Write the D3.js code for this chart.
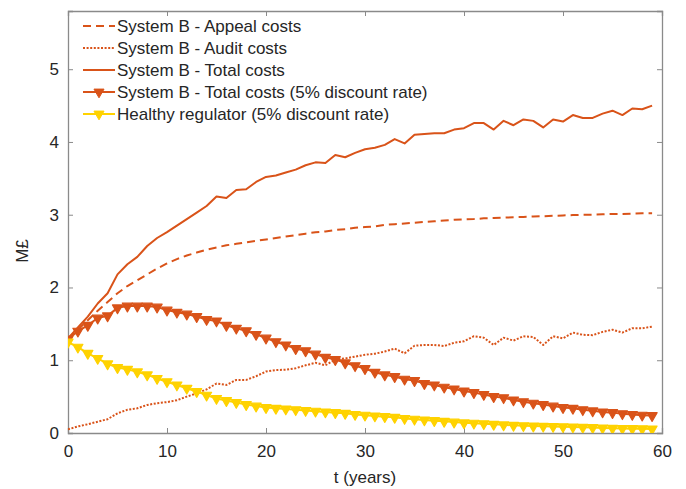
<!DOCTYPE html>
<html>
<head>
<meta charset="utf-8">
<script src="https://cdn.jsdelivr.net/npm/d3@7"></script>
<style>
  body { margin: 0; background: #fff; }
  text { font-family: "Liberation Sans", Arial, sans-serif; fill: #262626; }
</style>
</head>
<body>
<svg id="chart" width="686" height="489"></svg>
<script>
// years 0..59
var years = d3.range(0, 60);

var appealCosts = [1.3, 1.42, 1.55, 1.68, 1.8, 1.92, 2.02, 2.1, 2.18, 2.26,
  2.33, 2.39, 2.44, 2.48, 2.52, 2.55, 2.58, 2.6, 2.62, 2.64,
  2.66, 2.68, 2.7, 2.72, 2.74, 2.76, 2.77, 2.79, 2.8, 2.82,
  2.83, 2.84, 2.86, 2.87, 2.88, 2.89, 2.9, 2.91, 2.92, 2.93,
  2.935, 2.94, 2.95, 2.955, 2.96, 2.965, 2.97, 2.975, 2.98, 2.985,
  2.99, 2.995, 3.0, 3.0, 3.005, 3.01, 3.01, 3.015, 3.02, 3.02];

var auditCosts = [0.05, 0.09, 0.12, 0.155, 0.19, 0.27, 0.32, 0.34, 0.385, 0.41,
  0.425, 0.45, 0.5, 0.545, 0.6, 0.68, 0.66, 0.73, 0.73, 0.78,
  0.845, 0.865, 0.87, 0.89, 0.93, 0.965, 0.93, 1.01, 1.025, 1.05,
  1.075, 1.09, 1.12, 1.16, 1.095, 1.2, 1.21, 1.21, 1.195, 1.24,
  1.26, 1.33, 1.31, 1.21, 1.31, 1.27, 1.33, 1.32, 1.21, 1.33,
  1.3, 1.38, 1.35, 1.345, 1.39, 1.42, 1.38, 1.44, 1.44, 1.46];

var totalCosts = [1.3, 1.45, 1.6, 1.78, 1.92, 2.18, 2.32, 2.42, 2.57, 2.68,
  2.76, 2.85, 2.94, 3.03, 3.12, 3.25, 3.23, 3.34, 3.35, 3.45,
  3.52, 3.54, 3.58, 3.62, 3.68, 3.72, 3.71, 3.82, 3.79, 3.85,
  3.9, 3.92, 3.96, 4.04, 3.98, 4.1, 4.11, 4.12, 4.12, 4.17,
  4.19, 4.26, 4.26, 4.17, 4.29, 4.23, 4.31, 4.29, 4.2, 4.31,
  4.28, 4.37, 4.33, 4.33, 4.39, 4.43, 4.37, 4.46, 4.45, 4.5];

var totalDiscounted = [1.29, 1.4, 1.48, 1.58, 1.61, 1.72, 1.745, 1.745, 1.745, 1.73,
  1.69, 1.66, 1.635, 1.6, 1.56, 1.54, 1.48, 1.44, 1.405, 1.355,
  1.305, 1.255, 1.21, 1.16, 1.13, 1.085, 1.04, 1.01, 0.965, 0.925,
  0.885, 0.835, 0.8, 0.775, 0.74, 0.72, 0.68, 0.66, 0.63, 0.605,
  0.577, 0.555, 0.53, 0.5, 0.485, 0.455, 0.43, 0.41, 0.39, 0.37,
  0.35, 0.34, 0.32, 0.305, 0.29, 0.28, 0.265, 0.255, 0.245, 0.24];

var healthyRegulator = [1.25, 1.18, 1.095, 1.025, 0.95, 0.9, 0.875, 0.84, 0.8, 0.75,
  0.705, 0.66, 0.615, 0.57, 0.52, 0.475, 0.445, 0.42, 0.39, 0.37,
  0.35, 0.34, 0.33, 0.32, 0.31, 0.3, 0.29, 0.28, 0.27, 0.255,
  0.245, 0.235, 0.225, 0.215, 0.2, 0.19, 0.18, 0.17, 0.16, 0.15,
  0.14, 0.135, 0.128, 0.12, 0.112, 0.105, 0.1, 0.096, 0.093, 0.09,
  0.087, 0.083, 0.079, 0.075, 0.07, 0.066, 0.063, 0.06, 0.058, 0.056];

var xTicks = [0, 10, 20, 30, 40, 50, 60];
var yTicks = [0, 1, 2, 3, 4, 5];

var red = '#d95319';
var yellow = '#ffd200';
var axisGray = '#8a8a8a';
var fontSize = 17;

var series = [
  {name: 'System B - Appeal costs', values: appealCosts, color: red, dash: '8,5', width: 2, marker: false},
  {name: 'System B - Audit costs', values: auditCosts, color: red, dash: '2,1.6', width: 2, marker: false},
  {name: 'System B - Total costs', values: totalCosts, color: red, dash: null, width: 2, marker: false},
  {name: 'System B - Total costs (5% discount rate)', values: totalDiscounted, color: red, dash: null, width: 2, marker: true},
  {name: 'Healthy regulator (5% discount rate)', values: healthyRegulator, color: yellow, dash: null, width: 2, marker: true}
];

var margin = {left: 68, right: 24, top: 11, bottom: 56};
var width = 686, height = 489;
var svg = d3.select('#chart');

var x = d3.scaleLinear().domain([0, 60]).range([margin.left, width - margin.right]);
var y = d3.scaleLinear().domain([0, 5.8]).range([height - margin.bottom, margin.top]);

var plotW = x(60) - x(0);
var plotH = y(0) - y(5.8);

// clip so lines stay inside the box
svg.append('clipPath').attr('id', 'clip')
  .append('rect')
  .attr('x', x(0)).attr('y', y(5.8))
  .attr('width', plotW).attr('height', plotH);

// axes: ticks pointing inward, MATLAB style
var xAxis = svg.append('g')
  .attr('transform', 'translate(0,' + y(0) + ')')
  .call(d3.axisBottom(x).tickValues(xTicks).tickSize(-5).tickPadding(12).tickFormat(d3.format('d')));

var yAxis = svg.append('g')
  .attr('transform', 'translate(' + x(0) + ',0)')
  .call(d3.axisLeft(y).tickValues(yTicks).tickSize(-5).tickPadding(9).tickFormat(d3.format('d')));

var xTop = svg.append('g')
  .attr('transform', 'translate(0,' + y(5.8) + ')')
  .call(d3.axisTop(x).tickValues(xTicks).tickSize(-5).tickFormat(''));

var yRight = svg.append('g')
  .attr('transform', 'translate(' + x(60) + ',0)')
  .call(d3.axisRight(y).tickValues(yTicks).tickSize(-5).tickFormat(''));

[xAxis, yAxis, xTop, yRight].forEach(function(g){
  g.select('.domain').attr('stroke', axisGray).attr('stroke-width', 1.3);
  g.selectAll('.tick line').attr('stroke', axisGray).attr('stroke-width', 1);
  g.selectAll('.tick text')
    .attr('font-size', fontSize)
    .style('font-family', '"Liberation Sans", Arial, sans-serif')
    .attr('fill', '#262626');
});

// axis labels
svg.append('text')
  .attr('x', x(30))
  .attr('y', 483)
  .attr('text-anchor', 'middle')
  .attr('font-size', fontSize)
  .text('t (years)');

svg.append('text')
  .attr('transform', 'translate(28,' + 251 + ') rotate(-90)')
  .attr('text-anchor', 'middle')
  .attr('font-size', fontSize)
  .text('M£');

// lines
var line = d3.line()
  .x(function(d, i){ return x(years[i]); })
  .y(function(d){ return y(d); });

var tri = d3.symbol().type(d3.symbolTriangle).size(44);

var plot = svg.append('g').attr('clip-path', 'url(#clip)');

series.forEach(function(s){
  plot.append('path')
    .datum(s.values)
    .attr('fill', 'none')
    .attr('stroke', s.color)
    .attr('stroke-width', s.width)
    .attr('stroke-dasharray', s.dash)
    .attr('stroke-linejoin', 'round')
    .attr('d', line);

  if (s.marker) {
    plot.selectAll(null)
      .data(s.values)
      .enter()
      .append('path')
      .attr('d', tri)
      .attr('fill', s.color)
      .attr('stroke', s.color)
      .attr('stroke-width', 1.2)
      .attr('stroke-linejoin', 'round')
      .attr('transform', function(d, i){
        return 'translate(' + x(years[i]) + ',' + y(d) + ') rotate(180)';
      });
  }
});

// legend (no box)
var legend = svg.append('g');
var legY0 = 26, legStep = 22;
series.forEach(function(s, i){
  var ly = legY0 + i*legStep;
  legend.append('line')
    .attr('x1', 83).attr('x2', 115)
    .attr('y1', ly).attr('y2', ly)
    .attr('stroke', s.color)
    .attr('stroke-width', s.width)
    .attr('stroke-dasharray', s.dash);
  if (s.marker) {
    legend.append('path')
      .attr('d', tri)
      .attr('fill', s.color)
      .attr('stroke', s.color)
      .attr('stroke-linejoin', 'round')
      .attr('transform', 'translate(99,' + ly + ') rotate(180)');
  }
  legend.append('text')
    .attr('x', 117)
    .attr('y', ly + 6)
    .attr('font-size', fontSize)
    .text(s.name);
});
</script>
</body>
</html>
